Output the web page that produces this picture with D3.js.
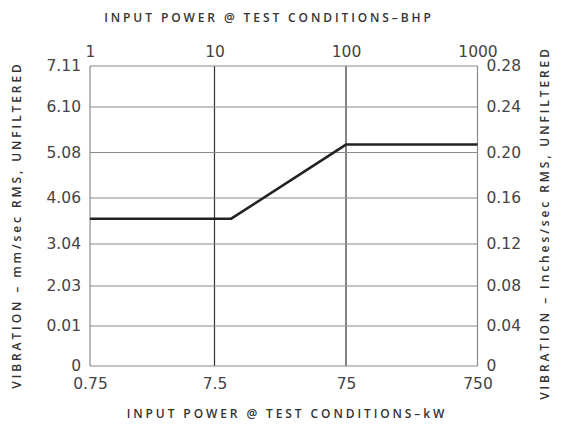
<!DOCTYPE html>
<html><head><meta charset="utf-8">
<script src="https://cdn.jsdelivr.net/npm/d3@7"></script>
<style>body{margin:0;background:#fff}svg{display:block}</style>
</head><body>
<svg id="c" width="561" height="427"></svg>
<script>
// Data
const topTicks = [1, 10, 100, 1000];              // BHP
const bottomTickLabels = ["0.75", "7.5", "75", "750"]; // kW
const rightTicks = [0, 0.04, 0.08, 0.12, 0.16, 0.20, 0.24, 0.28]; // in/sec
const leftTickLabels = ["0", "0.01", "2.03", "3.04", "4.06", "5.08", "6.10", "7.11"]; // mm/sec
const lineBHP = [1, 13.4, 100, 1000];
const lineInSec = [0.142, 0.142, 0.207, 0.207];

const svg = d3.select("#c");
const L = 90, R = 477.5, T = 66, B = 366;

// Piecewise scales as drawn in the reference
const x = d3.scaleLog().domain(topTicks).range([L, 214.5, 346, R]);
const y = d3.scaleLinear().domain(rightTicks).range([B, 326, 286, 244, 198, 152.5, 107, T]);

const grid = "#8a8a8a";
const tickFont = "'DejaVu Sans', sans-serif";
const g = svg.append("g");

// vertical grid
g.selectAll(".vg").data(topTicks).enter().append("line")
  .attr("x1", d => x(d)).attr("x2", d => x(d)).attr("y1", T).attr("y2", B)
  .attr("stroke", d => (d === 10 || d === 100) ? "#333" : grid).attr("stroke-width", 1.2);
// horizontal grid
g.selectAll(".hg").data(rightTicks).enter().append("line")
  .attr("x1", L).attr("x2", R).attr("y1", d => y(d)).attr("y2", d => y(d))
  .attr("stroke", grid).attr("stroke-width", 1.2);

// axes (labels only, lines drawn as grid)
const axTop = d3.axisTop(x).tickValues(topTicks).tickFormat(d3.format("d")).tickSize(0).tickPadding(9);
const axBottom = d3.axisBottom(x).tickValues(topTicks).tickFormat((d, i) => bottomTickLabels[i]).tickSize(0).tickPadding(12);
const axLeft = d3.axisLeft(y).tickValues(rightTicks).tickFormat((d, i) => leftTickLabels[i]).tickSize(0).tickPadding(9);
const axRight = d3.axisRight(y).tickValues(rightTicks).tickFormat(d => d === 0 ? "0" : d3.format(".2f")(d)).tickSize(0).tickPadding(9);

function styleAxis(sel) {
  sel.select(".domain").remove();
  sel.selectAll("text").attr("font-family", tickFont).attr("font-size", 15.5).attr("fill", "#444");
}
svg.append("g").attr("transform", `translate(0,${T})`).call(axTop).call(styleAxis);
svg.append("g").attr("transform", `translate(0,${B})`).call(axBottom).call(styleAxis);
svg.append("g").attr("transform", `translate(${L},0)`).call(axLeft).call(styleAxis);
svg.append("g").attr("transform", `translate(${R},0)`).call(axRight).call(styleAxis);

// data line
const line = d3.line().x(d => x(d[0])).y(d => y(d[1]));
svg.append("path").datum(lineBHP.map((v, i) => [v, lineInSec[i]]))
  .attr("d", line).attr("fill", "none").attr("stroke", "#222").attr("stroke-width", 2.6);

// titles
const titleFont = "'Open Sans', sans-serif";
function title(txt, tx, ty, rot) {
  svg.append("text").attr("transform", `translate(${tx},${ty}) rotate(${rot})`)
    .attr("text-anchor", "middle").attr("font-family", titleFont).attr("font-weight", 600)
    .attr("font-size", 12).attr("letter-spacing", 2.9).attr("fill", "#333").text(txt);
}
title("INPUT POWER @ TEST CONDITIONS–BHP", 269, 22, 0);
title("INPUT POWER @ TEST CONDITIONS–kW", 287, 418, 0);
title("VIBRATION – mm/sec RMS, UNFILTERED", 21, 225, -90);
title("VIBRATION – Inches/sec RMS, UNFILTERED", 549, 223, -90);
</script>
</body></html>
